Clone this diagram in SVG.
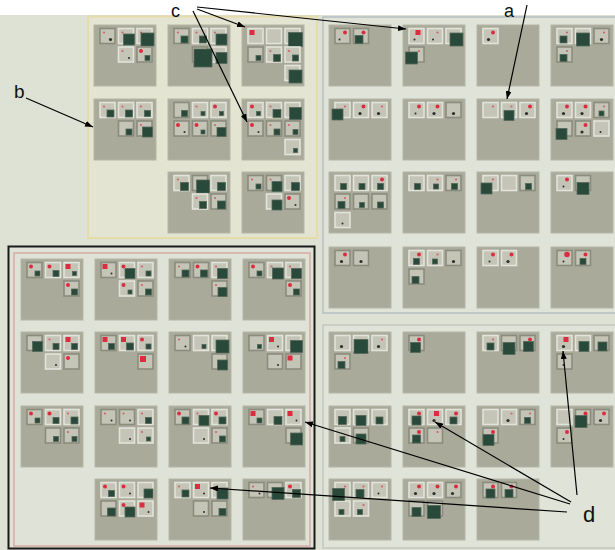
<svg xmlns="http://www.w3.org/2000/svg" xmlns:xlink="http://www.w3.org/1999/xlink" width="615" height="550" viewBox="0 0 615 550">
<style>
.tile{fill:#a9aa9a;stroke:#b6b6a6;stroke-width:1}
.ml{fill:#c4c5b7;stroke:#e2e3da;stroke-width:1.6}
.md{fill:#c4c5b7;stroke:#8b8c7e;stroke-width:1.6}
.r{fill:#dd2c40}
.rt{fill:#d9606c}
.g{fill:#29493a;stroke:#56685a;stroke-width:0.8}
.k{fill:#2c2f2c}
.lbl{font-family:"Liberation Sans",Arial,sans-serif;font-size:18px;fill:#111}
.cn{stroke:#000;stroke-width:1.2;fill:none;marker-end:url(#ah)}
</style>
<defs>
<marker id="ah" viewBox="0 0 8 6" refX="8" refY="3" markerWidth="8" markerHeight="6" markerUnits="userSpaceOnUse" orient="auto"><path d="M0,0 L8,3 L0,6 z" fill="#000"/></marker>
<rect id="L" width="15" height="15" class="ml"/>
<rect id="D" width="15" height="15" class="md"/>
<circle id="r1" cx="4" cy="4" r="1.1" class="rt"/>
<circle id="r2" cx="4" cy="4" r="2" class="r"/>
<rect id="r3" x="1.5" y="1.5" width="5" height="5" class="r"/>
<circle id="k" cx="10.5" cy="11" r="1.6" class="k"/>
<circle id="kt" cx="10.5" cy="11" r="1" class="k"/>
<rect id="g4" x="8.5" y="9" width="4" height="4" class="g"/>
<rect id="g5" x="8" y="8.5" width="5" height="5" class="g"/>
<rect id="g6" x="7.5" y="8" width="6" height="6" class="g"/>
<rect id="g7" x="7" y="7.5" width="7" height="7" class="g"/>
<rect id="g8" x="6.5" y="7" width="8" height="8" class="g"/>
<rect id="g9" x="6" y="6.5" width="9" height="9" class="g"/>
<rect id="g10" x="5.5" y="6" width="10" height="10" class="g"/>
<rect id="g11" x="5" y="5.5" width="11" height="11" class="g"/>
<rect id="g12" x="4.5" y="5" width="12" height="12" class="g"/>
<rect id="g13" x="4" y="4.5" width="13" height="13" class="g"/>
<rect id="g14" x="3.5" y="4" width="14" height="14" class="g"/>
<rect id="g18" x="1.5" y="2" width="18" height="18" class="g"/>
</defs>

<rect width="615" height="550" fill="#dde2d5"/>
<rect width="615" height="15" fill="#ffffff"/>

<g id="panel-b"><rect x="88" y="16.5" width="229" height="221.5" fill="#e3e4d1" stroke="#e6dcaa" stroke-width="2"/></g>
<g id="panel-a"><rect x="323" y="17" width="300" height="296" fill="#dfe3d8" stroke="#b7bfc4" stroke-width="1.5"/></g>
<g id="panel-bl"><rect x="8.5" y="246.5" width="306" height="302" fill="#dfe2d6" stroke="#1a1a1a" stroke-width="2"/><rect x="14" y="253" width="296" height="293" fill="none" stroke="#d7aaa2" stroke-width="1.5"/></g>
<g id="panel-br"><rect x="323" y="325" width="300" height="223" fill="#dfe3d8" stroke="#c2c9be" stroke-width="1.5"/></g>

<!-- Panel b tiles -->
<g id="b00" transform="translate(94,25)"><rect class="tile" width="62" height="61"/>
<g transform="translate(6,3.5)"><use xlink:href="#D"/><use xlink:href="#r1"/><use xlink:href="#k"/></g>
<g transform="translate(24.5,3.5)"><use xlink:href="#L"/><use xlink:href="#r1"/><use xlink:href="#g11"/></g>
<g transform="translate(43,3.5)"><use xlink:href="#L"/><use xlink:href="#r1"/><use xlink:href="#g13"/></g>
<g transform="translate(24.5,22)"><use xlink:href="#L"/><use xlink:href="#r1"/><use xlink:href="#kt"/></g>
<g transform="translate(43,22)"><use xlink:href="#D"/><use xlink:href="#r2"/><use xlink:href="#g5"/></g>
</g>
<g id="b10" transform="translate(168,25)"><rect class="tile" width="62" height="61"/>
<g transform="translate(6,3.5)"><use xlink:href="#D"/><use xlink:href="#r1"/><use xlink:href="#g7"/></g>
<g transform="translate(24.5,3.5)"><use xlink:href="#L"/><use xlink:href="#r1"/><use xlink:href="#g7"/></g>
<g transform="translate(43,3.5)"><use xlink:href="#L"/><use xlink:href="#r1"/><use xlink:href="#g11"/></g>
<g transform="translate(43,22)"><use xlink:href="#L"/><use xlink:href="#g11"/></g>
<g transform="translate(24.5,22)"><use xlink:href="#D"/><use xlink:href="#g18"/></g>
</g>
<g id="b20" transform="translate(242,25)"><rect class="tile" width="62" height="61"/>
<g transform="translate(6,3.5)"><use xlink:href="#L"/><use xlink:href="#r3"/></g>
<g transform="translate(24.5,3.5)"><use xlink:href="#L"/></g>
<g transform="translate(43,3.5)"><use xlink:href="#L"/><use xlink:href="#g14"/></g>
<g transform="translate(6,22)"><use xlink:href="#D"/><use xlink:href="#g5"/></g>
<g transform="translate(24.5,22)"><use xlink:href="#L"/><use xlink:href="#r1"/><use xlink:href="#g7"/></g>
<g transform="translate(43,22)"><use xlink:href="#L"/><use xlink:href="#r1"/><use xlink:href="#g6"/></g>
<g transform="translate(43,40.5)"><use xlink:href="#L"/><use xlink:href="#g13"/></g>
</g>
<g id="b01" transform="translate(94,99)"><rect class="tile" width="62" height="61"/>
<g transform="translate(6,3.5)"><use xlink:href="#L"/><use xlink:href="#r1"/><use xlink:href="#g7"/></g>
<g transform="translate(24.5,3.5)"><use xlink:href="#L"/><use xlink:href="#r1"/><use xlink:href="#g7"/></g>
<g transform="translate(43,3.5)"><use xlink:href="#L"/><use xlink:href="#r1"/><use xlink:href="#g6"/></g>
<g transform="translate(24.5,22)"><use xlink:href="#D"/><use xlink:href="#g6"/></g>
<g transform="translate(43,22)"><use xlink:href="#D"/><use xlink:href="#r1"/><use xlink:href="#g10"/></g>
</g>
<g id="b11" transform="translate(168,99)"><rect class="tile" width="62" height="61"/>
<g transform="translate(6,3.5)"><use xlink:href="#D"/><use xlink:href="#g6"/></g>
<g transform="translate(24.5,3.5)"><use xlink:href="#L"/><use xlink:href="#r1"/><use xlink:href="#g4"/></g>
<g transform="translate(43,3.5)"><use xlink:href="#L"/><use xlink:href="#r2"/><use xlink:href="#g4"/></g>
<g transform="translate(6,22)"><use xlink:href="#D"/><use xlink:href="#r2"/><use xlink:href="#kt"/></g>
<g transform="translate(24.5,22)"><use xlink:href="#D"/><use xlink:href="#r2"/><use xlink:href="#g4"/></g>
<g transform="translate(43,22)"><use xlink:href="#D"/><use xlink:href="#r1"/><use xlink:href="#g9"/></g>
</g>
<g id="b21" transform="translate(242,99)"><rect class="tile" width="62" height="61"/>
<g transform="translate(6,3.5)"><use xlink:href="#L"/><use xlink:href="#r2"/><use xlink:href="#g4"/></g>
<g transform="translate(24.5,3.5)"><use xlink:href="#L"/><use xlink:href="#r1"/><use xlink:href="#g8"/></g>
<g transform="translate(43,3.5)"><use xlink:href="#L"/><use xlink:href="#g12"/></g>
<g transform="translate(6,22)"><use xlink:href="#D"/><use xlink:href="#r2"/><use xlink:href="#kt"/></g>
<g transform="translate(24.5,22)"><use xlink:href="#D"/><use xlink:href="#r1"/><use xlink:href="#g6"/></g>
<g transform="translate(43,22)"><use xlink:href="#D"/><use xlink:href="#r1"/><use xlink:href="#g5"/></g>
<g transform="translate(43,40.5)"><use xlink:href="#L"/><use xlink:href="#g4"/></g>
</g>
<g id="b12" transform="translate(168,172)"><rect class="tile" width="62" height="61"/>
<g transform="translate(6,3.5)"><use xlink:href="#L"/><use xlink:href="#r1"/><use xlink:href="#g8"/></g>
<g transform="translate(43,3.5)"><use xlink:href="#L"/><use xlink:href="#g8"/></g>
<g transform="translate(24.5,3.5)"><use xlink:href="#D"/><use xlink:href="#g13"/></g>
<g transform="translate(24.5,22)"><use xlink:href="#L"/><use xlink:href="#r1"/><use xlink:href="#g7"/></g>
<g transform="translate(43,22)"><use xlink:href="#D"/><use xlink:href="#r1"/><use xlink:href="#g8"/></g>
</g>
<g id="b22" transform="translate(242,172)"><rect class="tile" width="62" height="61"/>
<g transform="translate(6,3.5)"><use xlink:href="#D"/><use xlink:href="#r1"/><use xlink:href="#g5"/></g>
<g transform="translate(24.5,3.5)"><use xlink:href="#D"/><use xlink:href="#r1"/><use xlink:href="#g10"/></g>
<g transform="translate(43,3.5)"><use xlink:href="#L"/><use xlink:href="#g8"/></g>
<g transform="translate(24.5,22)"><use xlink:href="#L"/><use xlink:href="#g10"/></g>
<g transform="translate(43,22)"><use xlink:href="#D"/><use xlink:href="#r2"/><use xlink:href="#kt"/></g>
</g>

<!-- Panel a tiles -->
<g id="a00" transform="translate(329,25)"><rect class="tile" width="62" height="61"/>
<g transform="translate(6,3.5)"><use xlink:href="#D"/><use xlink:href="#r2" x="6"/><use xlink:href="#kt" x="-6"/></g>
<g transform="translate(24.5,3.5)"><use xlink:href="#D"/><use xlink:href="#r2" x="6"/><use xlink:href="#g8" x="-5"/></g>
</g>
<g id="a10" transform="translate(403,25)"><rect class="tile" width="62" height="61"/>
<g transform="translate(6,3.5)"><use xlink:href="#L"/><use xlink:href="#r3" x="5"/><use xlink:href="#kt" x="-5"/></g>
<g transform="translate(24.5,3.5)"><use xlink:href="#L"/><use xlink:href="#r1" x="6"/><use xlink:href="#kt" x="-5"/></g>
<g transform="translate(43,3.5)"><use xlink:href="#L"/><use xlink:href="#g13"/></g>
<g transform="translate(6,22)"><use xlink:href="#D"/><use xlink:href="#r1" x="6"/><use xlink:href="#g12" x="-8"/></g>
</g>
<g id="a20" transform="translate(477,25)"><rect class="tile" width="62" height="61"/>
<g transform="translate(6,3.5)"><use xlink:href="#L"/><use xlink:href="#r2" x="6"/><use xlink:href="#k" x="-5"/></g>
</g>
<g id="a30" transform="translate(551,25)"><rect class="tile" width="62" height="61"/>
<g transform="translate(6,3.5)"><use xlink:href="#L"/><use xlink:href="#r1" x="6"/><use xlink:href="#g7" x="-4"/></g>
<g transform="translate(24.5,3.5)"><use xlink:href="#L"/><use xlink:href="#g13" x="-3"/></g>
<g transform="translate(43,3.5)"><use xlink:href="#D"/><use xlink:href="#r1" x="6"/><use xlink:href="#k" x="-3"/></g>
<g transform="translate(6,22)"><use xlink:href="#D"/><use xlink:href="#r1" x="6"/><use xlink:href="#g7" x="-4"/></g>
</g>
<g id="a01" transform="translate(329,99)"><rect class="tile" width="62" height="61"/>
<g transform="translate(6,3.5)"><use xlink:href="#L"/><use xlink:href="#r1" x="6"/></g>
<g transform="translate(24.5,3.5)"><use xlink:href="#L"/><use xlink:href="#r2" x="6"/><use xlink:href="#k" x="-4"/></g>
<g transform="translate(43,3.5)"><use xlink:href="#L"/><use xlink:href="#r1" x="6"/><use xlink:href="#k" x="-4"/></g>
<g transform="translate(6,3.5)"><use xlink:href="#g11" x="-8" y="1"/></g>
</g>
<g id="a11" transform="translate(403,99)"><rect class="tile" width="62" height="61"/>
<g transform="translate(6,3.5)"><use xlink:href="#L"/><use xlink:href="#r2" x="6"/><use xlink:href="#kt" x="-4"/></g>
<g transform="translate(24.5,3.5)"><use xlink:href="#L"/><use xlink:href="#r2" x="6"/><use xlink:href="#k" x="-4"/></g>
<g transform="translate(43,3.5)"><use xlink:href="#D"/><use xlink:href="#k" x="-3"/></g>
</g>
<g id="a21" transform="translate(477,99)"><rect class="tile" width="62" height="61"/>
<g transform="translate(6,3.5)"><use xlink:href="#L"/><use xlink:href="#r1" x="6"/></g>
<g transform="translate(24.5,3.5)"><use xlink:href="#L"/><use xlink:href="#r1" x="6"/><use xlink:href="#g10" x="-3" y="2"/></g>
<g transform="translate(43,3.5)"><use xlink:href="#L"/><use xlink:href="#r2" x="6"/><use xlink:href="#k" x="-4"/></g>
</g>
<g id="a31" transform="translate(551,99)"><rect class="tile" width="62" height="61"/>
<g transform="translate(6,3.5)"><use xlink:href="#L"/><use xlink:href="#r2" x="6"/><use xlink:href="#k" x="-4"/></g>
<g transform="translate(24.5,3.5)"><use xlink:href="#L"/><use xlink:href="#r2" x="6"/><use xlink:href="#k" x="-4"/></g>
<g transform="translate(43,3.5)"><use xlink:href="#D"/><use xlink:href="#r1" x="6"/><use xlink:href="#g5" x="-3"/></g>
<g transform="translate(24.5,22)"><use xlink:href="#D"/><use xlink:href="#r2" x="6"/><use xlink:href="#k" x="-4"/></g>
<g transform="translate(43,22)"><use xlink:href="#L"/><use xlink:href="#kt" x="-4"/></g>
<g transform="translate(6,22)"><use xlink:href="#D"/><use xlink:href="#g11" x="-6" y="2"/></g>
</g>
<g id="a02" transform="translate(329,172)"><rect class="tile" width="62" height="61"/>
<g transform="translate(6,3.5)"><use xlink:href="#L"/><use xlink:href="#g6" x="-2"/></g>
<g transform="translate(24.5,3.5)"><use xlink:href="#L"/><use xlink:href="#g6" x="-2"/></g>
<g transform="translate(43,3.5)"><use xlink:href="#L"/><use xlink:href="#r2" x="6"/><use xlink:href="#g6" x="-2"/></g>
<g transform="translate(6,22)"><use xlink:href="#D"/><use xlink:href="#r1" x="6"/><use xlink:href="#g7" x="-4"/></g>
<g transform="translate(24.5,22)"><use xlink:href="#D"/><use xlink:href="#g5" x="-2"/></g>
<g transform="translate(43,22)"><use xlink:href="#D"/><use xlink:href="#g6" x="-2"/></g>
<g transform="translate(6,40.5)"><use xlink:href="#L"/><use xlink:href="#kt" x="-3"/></g>
</g>
<g id="a12" transform="translate(403,172)"><rect class="tile" width="62" height="61"/>
<g transform="translate(6,3.5)"><use xlink:href="#L"/><use xlink:href="#g6" x="-2"/></g>
<g transform="translate(24.5,3.5)"><use xlink:href="#L"/><use xlink:href="#r1" x="6"/><use xlink:href="#g5" x="-2"/></g>
<g transform="translate(43,3.5)"><use xlink:href="#D"/><use xlink:href="#r1" x="6"/><use xlink:href="#g6" x="-2"/></g>
</g>
<g id="a22" transform="translate(477,172)"><rect class="tile" width="62" height="61"/>
<g transform="translate(6,3.5)"><use xlink:href="#L"/><use xlink:href="#r1" x="6"/></g>
<g transform="translate(24.5,3.5)"><use xlink:href="#L"/></g>
<g transform="translate(43,3.5)"><use xlink:href="#D"/><use xlink:href="#g6" x="-2"/></g>
<g transform="translate(6,3.5)"><use xlink:href="#g11" x="-7" y="2"/></g>
</g>
<g id="a32" transform="translate(551,172)"><rect class="tile" width="62" height="61"/>
<g transform="translate(6,3.5)"><use xlink:href="#L"/><use xlink:href="#r2" x="6"/><use xlink:href="#kt" x="-4"/></g>
<g transform="translate(24.5,3.5)"><use xlink:href="#D"/><use xlink:href="#g12" x="-3" y="2"/></g>
</g>
<g id="a03" transform="translate(329,247)"><rect class="tile" width="62" height="61"/>
<g transform="translate(6,3.5)"><use xlink:href="#D"/><use xlink:href="#r2" x="6"/><use xlink:href="#k" x="-4"/></g>
<g transform="translate(24.5,3.5)"><use xlink:href="#D"/><use xlink:href="#k" x="-3"/></g>
</g>
<g id="a13" transform="translate(403,247)"><rect class="tile" width="62" height="61"/>
<g transform="translate(6,3.5)"><use xlink:href="#L"/><use xlink:href="#r2" x="6"/><use xlink:href="#g6" x="-3"/></g>
<g transform="translate(24.5,3.5)"><use xlink:href="#L"/><use xlink:href="#r1" x="6"/><use xlink:href="#g5" x="-3"/></g>
<g transform="translate(43,3.5)"><use xlink:href="#D"/><use xlink:href="#k" x="-3"/></g>
<g transform="translate(6,22)"><use xlink:href="#D"/><use xlink:href="#g7" x="-4"/></g>
</g>
<g id="a23" transform="translate(477,247)"><rect class="tile" width="62" height="61"/>
<g transform="translate(6,3.5)"><use xlink:href="#L"/><use xlink:href="#r2" x="6"/><use xlink:href="#kt" x="-4"/></g>
<g transform="translate(24.5,3.5)"><use xlink:href="#L"/><use xlink:href="#r2" x="6"/><use xlink:href="#k" x="-4"/></g>
</g>
<g id="a33" transform="translate(551,247)"><rect class="tile" width="62" height="61"/>
<g transform="translate(6,3.5)"><use xlink:href="#D"/><circle cx="10" cy="4" r="2.8" class="r"/><use xlink:href="#kt" x="-4"/></g>
<g transform="translate(24.5,3.5)"><use xlink:href="#D"/><use xlink:href="#r2" x="6"/><use xlink:href="#g6" x="-3"/></g>
</g>

<!-- Bottom-left tiles -->
<g id="l00" transform="translate(21,259)"><rect class="tile" width="62" height="61"/>
<g transform="translate(6,3.5)"><use xlink:href="#D"/><use xlink:href="#r2"/><use xlink:href="#g5"/></g>
<g transform="translate(24.5,3.5)"><use xlink:href="#L"/><use xlink:href="#r2"/><use xlink:href="#g6"/></g>
<g transform="translate(43,3.5)"><use xlink:href="#L"/><use xlink:href="#r3"/><use xlink:href="#g4"/></g>
<g transform="translate(43,22)"><use xlink:href="#D"/><use xlink:href="#r2"/><use xlink:href="#g6"/></g>
</g>
<g id="l10" transform="translate(95,259)"><rect class="tile" width="62" height="61"/>
<g transform="translate(6,3.5)"><use xlink:href="#D"/><use xlink:href="#r3"/><use xlink:href="#kt"/></g>
<g transform="translate(24.5,3.5)"><use xlink:href="#L"/><use xlink:href="#r2"/><use xlink:href="#g10"/></g>
<g transform="translate(43,3.5)"><use xlink:href="#L"/><use xlink:href="#r1"/><use xlink:href="#g5"/></g>
<g transform="translate(24.5,22)"><use xlink:href="#L"/><use xlink:href="#r2"/><use xlink:href="#g4"/></g>
<g transform="translate(43,22)"><use xlink:href="#D"/><use xlink:href="#r1"/><use xlink:href="#g6"/></g>
</g>
<g id="l20" transform="translate(169,259)"><rect class="tile" width="62" height="61"/>
<g transform="translate(6,3.5)"><use xlink:href="#D"/><use xlink:href="#r1"/><use xlink:href="#g7"/></g>
<g transform="translate(24.5,3.5)"><use xlink:href="#D"/><use xlink:href="#r2"/><use xlink:href="#g7"/></g>
<g transform="translate(43,3.5)"><use xlink:href="#L"/><use xlink:href="#r1"/><use xlink:href="#g10"/></g>
<g transform="translate(43,22)"><use xlink:href="#D"/><use xlink:href="#r1"/><use xlink:href="#g9"/></g>
</g>
<g id="l30" transform="translate(243,259)"><rect class="tile" width="62" height="61"/>
<g transform="translate(6,3.5)"><use xlink:href="#D"/><use xlink:href="#r2"/><use xlink:href="#g5"/></g>
<g transform="translate(24.5,3.5)"><use xlink:href="#L"/><use xlink:href="#r1"/><use xlink:href="#g11"/></g>
<g transform="translate(43,3.5)"><use xlink:href="#L"/><use xlink:href="#r1"/><use xlink:href="#g10"/></g>
<g transform="translate(43,22)"><use xlink:href="#D"/><use xlink:href="#r2"/><use xlink:href="#g6"/></g>
</g>
<g id="l01" transform="translate(21,332)"><rect class="tile" width="62" height="61"/>
<g transform="translate(6,3.5)"><use xlink:href="#D"/><use xlink:href="#g10"/></g>
<g transform="translate(24.5,3.5)"><use xlink:href="#L"/><use xlink:href="#r1"/><use xlink:href="#g6"/></g>
<g transform="translate(43,3.5)"><use xlink:href="#L"/><use xlink:href="#r3"/><use xlink:href="#g6"/></g>
<g transform="translate(24.5,22)"><use xlink:href="#L"/><use xlink:href="#kt"/></g>
<g transform="translate(43,22)"><use xlink:href="#D"/><use xlink:href="#r2"/></g>
</g>
<g id="l11" transform="translate(95,332)"><rect class="tile" width="62" height="61"/>
<g transform="translate(6,3.5)"><use xlink:href="#D"/><use xlink:href="#r3"/><use xlink:href="#g6"/></g>
<g transform="translate(24.5,3.5)"><use xlink:href="#L"/><use xlink:href="#r3"/><use xlink:href="#g7"/></g>
<g transform="translate(43,3.5)"><use xlink:href="#L"/><use xlink:href="#r2"/><use xlink:href="#g5"/></g>
<g transform="translate(43,22)"><use xlink:href="#D"/><rect x="2" y="2" width="6" height="6" class="r"/></g>
</g>
<g id="l21" transform="translate(169,332)"><rect class="tile" width="62" height="61"/>
<g transform="translate(6,3.5)"><use xlink:href="#D"/><use xlink:href="#r1"/><use xlink:href="#kt"/></g>
<g transform="translate(24.5,3.5)"><use xlink:href="#L"/><use xlink:href="#g4"/></g>
<g transform="translate(43,3.5)"><use xlink:href="#L"/><use xlink:href="#g13"/></g>
<g transform="translate(43,22)"><use xlink:href="#D"/><use xlink:href="#g10"/></g>
</g>
<g id="l31" transform="translate(243,332)"><rect class="tile" width="62" height="61"/>
<g transform="translate(6,3.5)"><use xlink:href="#D"/><use xlink:href="#g4"/></g>
<g transform="translate(24.5,3.5)"><use xlink:href="#L"/><use xlink:href="#r3"/><use xlink:href="#kt"/></g>
<g transform="translate(43,3.5)"><use xlink:href="#L"/><use xlink:href="#g12"/></g>
<g transform="translate(24.5,22)"><use xlink:href="#D"/><use xlink:href="#kt"/></g>
<g transform="translate(43,22)"><use xlink:href="#D"/><use xlink:href="#r3"/></g>
</g>
<g id="l02" transform="translate(21,406)"><rect class="tile" width="62" height="61"/>
<g transform="translate(6,3.5)"><use xlink:href="#D"/><use xlink:href="#r2"/><use xlink:href="#g5"/></g>
<g transform="translate(24.5,3.5)"><use xlink:href="#L"/><use xlink:href="#r2"/><use xlink:href="#g6"/></g>
<g transform="translate(43,3.5)"><use xlink:href="#L"/><use xlink:href="#r1"/><use xlink:href="#g7"/></g>
<g transform="translate(24.5,22)"><use xlink:href="#D"/><use xlink:href="#g5"/></g>
<g transform="translate(43,22)"><use xlink:href="#D"/><use xlink:href="#r1"/><use xlink:href="#g5"/></g>
</g>
<g id="l12" transform="translate(95,406)"><rect class="tile" width="62" height="61"/>
<g transform="translate(6,3.5)"><use xlink:href="#D"/><use xlink:href="#r1"/><use xlink:href="#kt"/></g>
<g transform="translate(24.5,3.5)"><use xlink:href="#D"/><use xlink:href="#r1"/><use xlink:href="#kt"/></g>
<g transform="translate(43,3.5)"><use xlink:href="#L"/><use xlink:href="#r1"/><use xlink:href="#g6"/></g>
<g transform="translate(24.5,22)"><use xlink:href="#L"/><use xlink:href="#kt"/></g>
<g transform="translate(43,22)"><use xlink:href="#L"/><use xlink:href="#r1"/><use xlink:href="#g4"/></g>
</g>
<g id="l22" transform="translate(169,406)"><rect class="tile" width="62" height="61"/>
<g transform="translate(6,3.5)"><use xlink:href="#D"/><use xlink:href="#r2"/><use xlink:href="#g7"/></g>
<g transform="translate(24.5,3.5)"><use xlink:href="#L"/><use xlink:href="#r1"/><use xlink:href="#g10"/></g>
<g transform="translate(43,3.5)"><use xlink:href="#L"/><use xlink:href="#r2"/><use xlink:href="#g7"/></g>
<g transform="translate(24.5,22)"><use xlink:href="#L"/><use xlink:href="#kt"/></g>
<g transform="translate(43,22)"><use xlink:href="#D"/><use xlink:href="#r1"/><use xlink:href="#g6"/></g>
</g>
<g id="l32" transform="translate(243,406)"><rect class="tile" width="62" height="61"/>
<g transform="translate(6,3.5)"><use xlink:href="#D"/><use xlink:href="#r3"/><use xlink:href="#g5"/></g>
<g transform="translate(24.5,3.5)"><use xlink:href="#L"/><use xlink:href="#g8"/></g>
<g transform="translate(43,3.5)"><use xlink:href="#L"/><use xlink:href="#r3"/><use xlink:href="#kt"/></g>
<g transform="translate(43,22)"><use xlink:href="#D"/><use xlink:href="#g12"/></g>
</g>
<g id="l13" transform="translate(95,479)"><rect class="tile" width="62" height="61"/>
<g transform="translate(6,3.5)"><use xlink:href="#L"/><use xlink:href="#r2"/><use xlink:href="#g6"/></g>
<g transform="translate(24.5,3.5)"><use xlink:href="#L"/><use xlink:href="#r2"/><use xlink:href="#kt"/></g>
<g transform="translate(43,3.5)"><use xlink:href="#L"/><use xlink:href="#g9"/></g>
<g transform="translate(6,22)"><use xlink:href="#D"/><use xlink:href="#g8"/></g>
<g transform="translate(24.5,22)"><use xlink:href="#L"/><use xlink:href="#r2"/><use xlink:href="#g10"/></g>
<g transform="translate(43,22)"><use xlink:href="#L"/><use xlink:href="#r3"/><use xlink:href="#kt"/></g>
</g>
<g id="l23" transform="translate(169,479)"><rect class="tile" width="62" height="61"/>
<g transform="translate(6,3.5)"><use xlink:href="#L"/><use xlink:href="#r1"/><use xlink:href="#g7"/></g>
<g transform="translate(24.5,3.5)"><use xlink:href="#L"/><use xlink:href="#r3"/><use xlink:href="#kt"/></g>
<g transform="translate(43,3.5)"><use xlink:href="#L"/><use xlink:href="#g11"/></g>
<g transform="translate(24.5,22)"><use xlink:href="#D"/><use xlink:href="#kt"/></g>
<g transform="translate(43,22)"><use xlink:href="#D"/><use xlink:href="#g7"/></g>
</g>
<g id="l33" transform="translate(243,479)"><rect class="tile" width="62" height="61"/>
<g transform="translate(6,3.5)"><use xlink:href="#D"/><use xlink:href="#r1"/><use xlink:href="#kt"/></g>
<g transform="translate(43,3.5)"><use xlink:href="#L"/><use xlink:href="#r2"/><use xlink:href="#g8"/></g>
<g transform="translate(24.5,3.5)"><use xlink:href="#D"/><use xlink:href="#g12"/></g>
</g>

<!-- Bottom-right tiles -->
<g id="r00" transform="translate(329,332)"><rect class="tile" width="62" height="61"/>
<g transform="translate(6,3.5)"><use xlink:href="#L"/><use xlink:href="#k" x="-4"/></g>
<g transform="translate(43,3.5)"><use xlink:href="#L"/><use xlink:href="#r1" x="6"/><use xlink:href="#k" x="-4"/></g>
<g transform="translate(24.5,3.5)"><use xlink:href="#L"/><use xlink:href="#g14" x="-3"/></g>
<g transform="translate(6,22)"><use xlink:href="#D"/><use xlink:href="#r1" x="6"/><use xlink:href="#g7" x="-4"/></g>
</g>
<g id="r10" transform="translate(403,332)"><rect class="tile" width="62" height="61"/>
<g transform="translate(6,3.5)"><use xlink:href="#D"/><use xlink:href="#r2" x="6"/><use xlink:href="#g10" x="-4" y="1"/></g>
</g>
<g id="r20" transform="translate(477,332)"><rect class="tile" width="62" height="61"/>
<g transform="translate(6,3.5)"><use xlink:href="#L"/><use xlink:href="#r1" x="6"/><use xlink:href="#g7" x="-3"/></g>
<g transform="translate(24.5,3.5)"><use xlink:href="#D"/><use xlink:href="#g12" x="-3" y="2"/></g>
<g transform="translate(43,3.5)"><use xlink:href="#D"/><use xlink:href="#r2" x="6"/><use xlink:href="#g10" x="-2"/></g>
</g>
<g id="r30" transform="translate(551,332)"><rect class="tile" width="62" height="61"/>
<g transform="translate(6,3.5)"><use xlink:href="#L"/><use xlink:href="#r3" x="5"/><use xlink:href="#k" x="-4"/></g>
<g transform="translate(24.5,3.5)"><use xlink:href="#L"/><use xlink:href="#g10" x="-2"/></g>
<g transform="translate(43,3.5)"><use xlink:href="#D"/><use xlink:href="#g9" x="-2"/></g>
<g transform="translate(6,22)"><use xlink:href="#D"/><use xlink:href="#kt" x="-4"/></g>
</g>
<g id="r01" transform="translate(329,406)"><rect class="tile" width="62" height="61"/>
<g transform="translate(6,3.5)"><use xlink:href="#L"/><use xlink:href="#g8" x="-3"/></g>
<g transform="translate(24.5,3.5)"><use xlink:href="#L"/><use xlink:href="#g10" x="-3"/></g>
<g transform="translate(43,3.5)"><use xlink:href="#L"/><use xlink:href="#g7" x="-3"/></g>
<g transform="translate(6,22)"><use xlink:href="#L"/><use xlink:href="#g5" x="-3"/></g>
<g transform="translate(24.5,22)"><use xlink:href="#D"/><use xlink:href="#g10" x="-3"/></g>
</g>
<g id="r11" transform="translate(403,406)"><rect class="tile" width="62" height="61"/>
<g transform="translate(6,3.5)"><use xlink:href="#L"/><use xlink:href="#r2" x="6"/><use xlink:href="#g9" x="-3"/></g>
<g transform="translate(24.5,3.5)"><use xlink:href="#L"/><use xlink:href="#r3" x="5"/><use xlink:href="#k" x="-4"/></g>
<g transform="translate(43,3.5)"><use xlink:href="#L"/><use xlink:href="#r2" x="6"/><use xlink:href="#g7" x="-3"/></g>
<g transform="translate(6,22)"><use xlink:href="#D"/><use xlink:href="#r2" x="6"/><use xlink:href="#g8" x="-3"/></g>
<g transform="translate(24.5,22)"><use xlink:href="#D"/><use xlink:href="#r1" x="6"/></g>
</g>
<g id="r21" transform="translate(477,406)"><rect class="tile" width="62" height="61"/>
<g transform="translate(6,3.5)"><use xlink:href="#L"/></g>
<g transform="translate(24.5,3.5)"><use xlink:href="#L"/><use xlink:href="#r1" x="6"/><use xlink:href="#k" x="-4"/></g>
<g transform="translate(43,3.5)"><use xlink:href="#D"/><use xlink:href="#r1" x="6"/><use xlink:href="#g6" x="-3"/></g>
<g transform="translate(6,22)"><use xlink:href="#D"/><use xlink:href="#r2" x="6"/><use xlink:href="#g11" x="-5" y="1"/></g>
</g>
<g id="r31" transform="translate(551,406)"><rect class="tile" width="62" height="61"/>
<g transform="translate(6,3.5)"><use xlink:href="#L"/></g>
<g transform="translate(43,3.5)"><use xlink:href="#D"/><use xlink:href="#r2" x="6"/><use xlink:href="#k" x="-4"/></g>
<g transform="translate(24.5,3.5)"><use xlink:href="#D"/><use xlink:href="#r2" x="6"/><use xlink:href="#g12" x="-5" y="1"/></g>
<g transform="translate(6,22)"><use xlink:href="#D"/><use xlink:href="#r2" x="6"/><use xlink:href="#kt" x="-4"/></g>
</g>
<g id="r02" transform="translate(329,479)"><rect class="tile" width="62" height="61"/>
<g transform="translate(24.5,3.5)"><use xlink:href="#L"/><use xlink:href="#r1" x="6"/><use xlink:href="#g8" x="-4"/></g>
<g transform="translate(43,3.5)"><use xlink:href="#L"/><use xlink:href="#r1" x="6"/><use xlink:href="#kt" x="-4"/></g>
<g transform="translate(6,22)"><use xlink:href="#L"/><use xlink:href="#g5" x="-4"/></g>
<g transform="translate(24.5,22)"><use xlink:href="#L"/><use xlink:href="#r1" x="6"/><use xlink:href="#g5" x="-4"/></g>
<g transform="translate(6,3.5)"><use xlink:href="#L"/><use xlink:href="#r1" x="6"/><use xlink:href="#g12" x="-7" y="1"/></g>
</g>
<g id="r12" transform="translate(403,479)"><rect class="tile" width="62" height="61"/>
<g transform="translate(6,3.5)"><use xlink:href="#L"/><use xlink:href="#r2" x="6"/><use xlink:href="#k" x="-4"/></g>
<g transform="translate(24.5,3.5)"><use xlink:href="#L"/><use xlink:href="#r2" x="6"/><use xlink:href="#k" x="-4"/></g>
<g transform="translate(43,3.5)"><use xlink:href="#D"/><use xlink:href="#r2" x="6"/><use xlink:href="#k" x="-4"/></g>
<g transform="translate(6,22)"><use xlink:href="#D"/><use xlink:href="#g9" x="-3"/></g>
<g transform="translate(24.5,22)"><use xlink:href="#D"/><use xlink:href="#g13" x="-4"/></g>
</g>
<g id="r22" transform="translate(477,479)"><rect class="tile" width="62" height="61"/>
<g transform="translate(6,3.5)"><use xlink:href="#D"/><use xlink:href="#r2" x="6"/><use xlink:href="#g9" x="-3"/></g>
<g transform="translate(24.5,3.5)"><use xlink:href="#D"/><use xlink:href="#r2" x="6"/><use xlink:href="#g8" x="-3"/></g>
</g>

<g id="connectors">
<path class="cn" d="M197,7 L406,29"/>
<path class="cn" d="M197,9 L245,27"/>
<path class="cn" d="M193,11 L247,122"/>
<path class="cn" d="M527,5 L507,99"/>
<path class="cn" d="M26,98 L93,127"/>
<path class="cn" d="M577,495 L563,351"/>
<path class="cn" d="M571,502 L435,422"/>
<path class="cn" d="M570,504 L305,422"/>
<path class="cn" d="M567,512 L210,488"/>
</g>

<g id="labels">
<text class="lbl" x="171" y="16.5">c</text>
<text class="lbl" x="504" y="16.5">a</text>
<text class="lbl" x="14" y="98" style="font-size:19px">b</text>
<text class="lbl" x="583" y="522" style="font-size:22px">d</text>
</g>
</svg>
